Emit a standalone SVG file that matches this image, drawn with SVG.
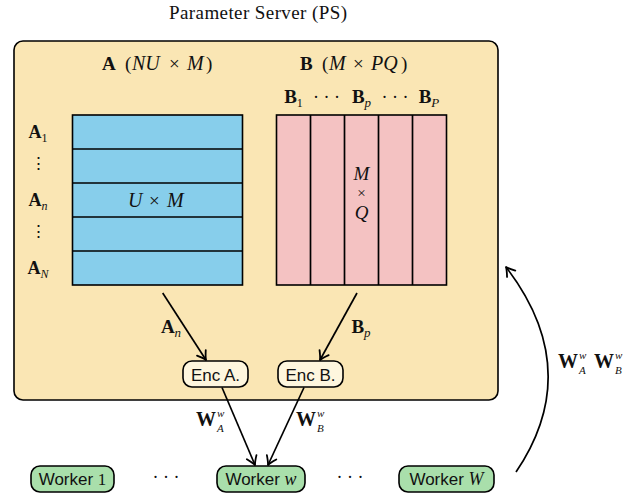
<svg xmlns="http://www.w3.org/2000/svg" width="642" height="498" viewBox="0 0 642 498">
<style>
  .s { font-family: "Liberation Serif", "Times New Roman", serif; fill: #111; }
  .ss { font-family: "Liberation Sans", Arial, sans-serif; fill: #111; }
  .b { font-weight: bold; }
  .i { font-style: italic; }
  .box { stroke: #000; stroke-width: 1.6; }
  .ln { stroke: #000; stroke-width: 1.7; fill: none; }
  .edge { stroke: #000; stroke-width: 1.7; fill: none; marker-end: url(#arr); }
</style>
<defs>
  <marker id="arr" markerUnits="userSpaceOnUse" viewBox="-12 -8 14 16" refX="0" refY="0" markerWidth="14" markerHeight="16" orient="auto" overflow="visible">
    <path d="M-8.5,-5.2 Q-3,-1.2 0,0 Q-3,1.2 -8.5,5.2" fill="none" stroke="#000" stroke-width="1.8" stroke-linecap="round" stroke-linejoin="round"/>
  </marker>
</defs>
<rect width="642" height="498" fill="#fff"/>

<g id="ps">
  <text class="s" x="258" y="19" font-size="19" text-anchor="middle" textLength="178" lengthAdjust="spacing">Parameter Server (PS)</text>
  <rect class="box" x="14" y="41" width="484" height="359" rx="9" fill="#FAE6B4"/>
  <text class="s" y="70" font-size="19"><tspan class="b" x="102">A</tspan><tspan x="125">(</tspan><tspan class="i" font-size="20" x="132">NU</tspan><tspan x="169">×</tspan><tspan class="i" font-size="20" x="187">M</tspan><tspan x="206">)</tspan></text>
  <text class="s" y="70" font-size="19"><tspan class="b" x="300">B</tspan><tspan x="322">(</tspan><tspan class="i" font-size="20" x="329">M</tspan><tspan x="353">×</tspan><tspan class="i" font-size="20" x="371">PQ</tspan><tspan x="401">)</tspan></text>
</g>

<g id="matA">
  <rect class="box" x="72.5" y="115" width="170" height="170" fill="#87CEEB"/>
  <line class="ln" x1="72.5" y1="149" x2="242.5" y2="149"/>
  <line class="ln" x1="72.5" y1="183" x2="242.5" y2="183"/>
  <line class="ln" x1="72.5" y1="217" x2="242.5" y2="217"/>
  <line class="ln" x1="72.5" y1="251" x2="242.5" y2="251"/>
  <text class="s" y="207" font-size="19"><tspan class="i" font-size="20" x="128">U</tspan><tspan x="149">×</tspan><tspan class="i" font-size="20" x="167">M</tspan></text>
  <text class="s" x="38" y="138" font-size="18" text-anchor="middle"><tspan class="b">A</tspan><tspan font-size="12" dy="4">1</tspan></text>
  <text class="s" x="38" y="169" font-size="17" text-anchor="middle" font-family="DejaVu Serif, serif">⋮</text>
  <text class="s" x="38" y="206" font-size="18" text-anchor="middle"><tspan class="b">A</tspan><tspan class="i" font-size="12" dy="4">n</tspan></text>
  <text class="s" x="38" y="237" font-size="17" text-anchor="middle" font-family="DejaVu Serif, serif">⋮</text>
  <text class="s" x="38" y="274" font-size="18" text-anchor="middle"><tspan class="b">A</tspan><tspan class="i" font-size="12" dy="4">N</tspan></text>
</g>

<g id="matB">
  <rect class="box" x="276.5" y="115" width="170" height="170" fill="#F4C2C2"/>
  <line class="ln" x1="310.5" y1="115" x2="310.5" y2="285"/>
  <line class="ln" x1="344.5" y1="115" x2="344.5" y2="285"/>
  <line class="ln" x1="378.5" y1="115" x2="378.5" y2="285"/>
  <line class="ln" x1="412.5" y1="115" x2="412.5" y2="285"/>
  <text class="s i" x="361.5" y="180" font-size="19" text-anchor="middle">M</text>
  <text class="s" x="361.5" y="198" font-size="15" text-anchor="middle">×</text>
  <text class="s i" x="361.5" y="219" font-size="19" text-anchor="middle">Q</text>
  <text class="s" x="293.5" y="103" font-size="19" text-anchor="middle"><tspan class="b">B</tspan><tspan font-size="12" dy="4">1</tspan></text>
  <text class="s" x="326.5" y="103" font-size="18" text-anchor="middle">· · ·</text>
  <text class="s" x="361.5" y="103" font-size="19" text-anchor="middle"><tspan class="b">B</tspan><tspan class="i" font-size="13" dy="4">p</tspan></text>
  <text class="s" x="395" y="103" font-size="18" text-anchor="middle">· · ·</text>
  <text class="s" x="429" y="103" font-size="19" text-anchor="middle"><tspan class="b">B</tspan><tspan class="i" font-size="13" dy="4">P</tspan></text>
</g>

<g id="encA">
  <rect class="box" x="183" y="361" width="65" height="26" rx="9" fill="#FEF6DE"/>
  <text class="ss" x="215.5" y="381" font-size="17" text-anchor="middle">Enc A.</text>
</g>
<g id="encB">
  <rect class="box" x="278" y="361" width="65" height="26" rx="9" fill="#FEF6DE"/>
  <text class="ss" x="310.5" y="381" font-size="17" text-anchor="middle">Enc B.</text>
</g>

<g id="worker1">
  <rect class="box" x="31" y="466" width="83" height="26" rx="9" fill="#A9DFAB"/>
  <text class="ss" x="72.5" y="485" font-size="17" text-anchor="middle">Worker <tspan class="s">1</tspan></text>
</g>
<g id="workerw">
  <rect class="box" x="217" y="466" width="88" height="26" rx="9" fill="#A9DFAB"/>
  <text class="ss" x="261" y="485" font-size="17" text-anchor="middle">Worker <tspan class="s i" font-size="18">w</tspan></text>
</g>
<g id="workerW">
  <rect class="box" x="399" y="466" width="95" height="26" rx="9" fill="#A9DFAB"/>
  <text class="ss" x="446.5" y="485" font-size="17" text-anchor="middle">Worker <tspan class="s i" font-size="18">W</tspan></text>
</g>
<text class="s" x="166" y="483" font-size="18" text-anchor="middle">· · ·</text>
<text class="s" x="350" y="483" font-size="18" text-anchor="middle">· · ·</text>

<g id="connectors">
  <path class="edge" d="M162.7,293 L206,360"/>
  <path class="edge" d="M357,293 L320,360"/>
  <path class="edge" d="M222,387.5 L255,465"/>
  <path class="edge" d="M304,387.5 L268,465"/>
  <path class="edge" d="M516,472 Q585,370 506,267"/>
  <text class="s" x="171" y="333" font-size="19" text-anchor="middle"><tspan class="b">A</tspan><tspan class="i" font-size="13" dy="4">n</tspan></text>
  <text class="s" x="361" y="333" font-size="19" text-anchor="middle"><tspan class="b">B</tspan><tspan class="i" font-size="13" dy="4">p</tspan></text>
  <text class="s b" x="196" y="426" font-size="20">W</text>
  <text class="s i" x="217" y="417" font-size="11">w</text>
  <text class="s i" x="217" y="432" font-size="11">A</text>
  <text class="s b" x="296" y="426" font-size="20">W</text>
  <text class="s i" x="317" y="417" font-size="11">w</text>
  <text class="s i" x="317" y="432" font-size="11">B</text>
  <text class="s b" x="558" y="368" font-size="20">W</text>
  <text class="s i" x="579" y="359" font-size="11">w</text>
  <text class="s i" x="579" y="374" font-size="11">A</text>
  <text class="s b" x="594" y="368" font-size="20">W</text>
  <text class="s i" x="615" y="359" font-size="11">w</text>
  <text class="s i" x="615" y="374" font-size="11">B</text>
</g>
</svg>
